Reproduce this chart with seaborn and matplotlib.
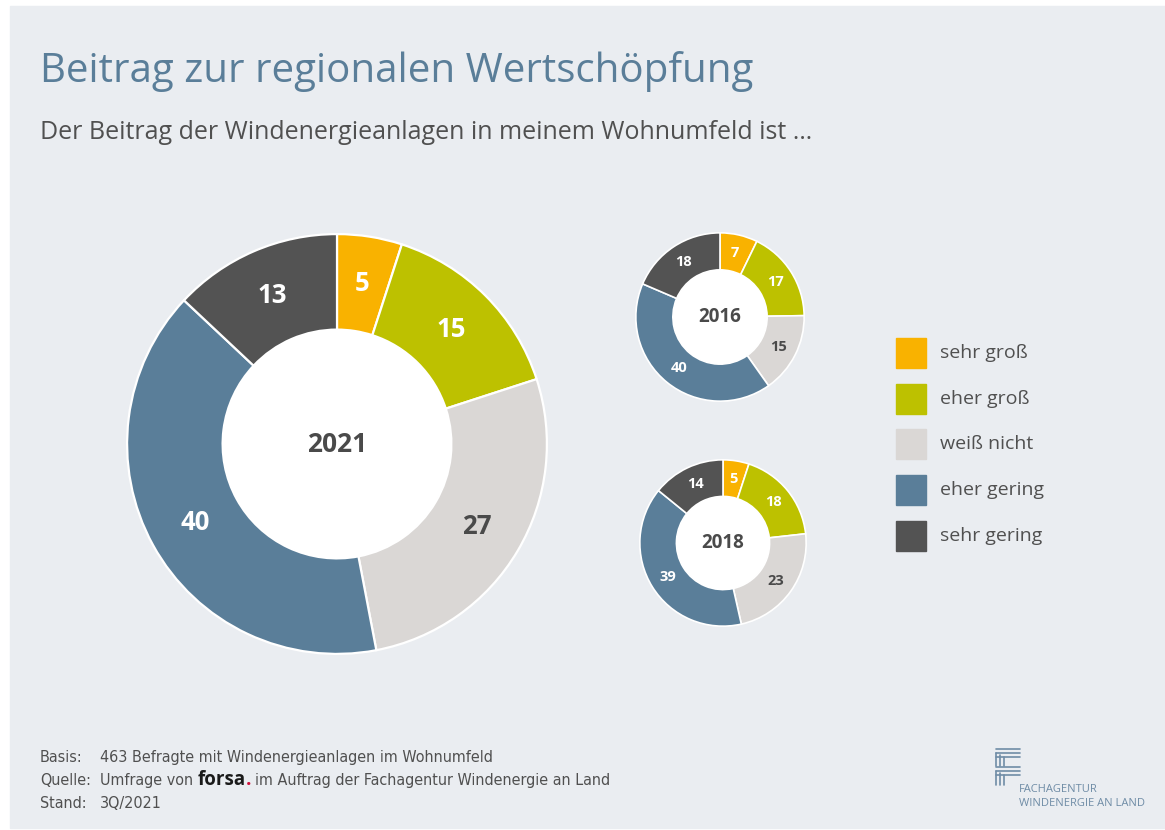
import matplotlib
matplotlib.use("Agg")
import numpy as np
import matplotlib.pyplot as plt
import seaborn as sns
from matplotlib.patches import Rectangle
from matplotlib.lines import Line2D

# Data
categories = ["sehr groß", "eher groß", "weiß nicht", "eher gering", "sehr gering"]
values_2021 = [5, 15, 27, 40, 13]
values_2016 = [7, 17, 15, 40, 18]
values_2018 = [5, 18, 23, 39, 14]
colors = ["#F9B200", "#BDC100", "#DAD7D5", "#5A7E99", "#535353"]
label_colors = ["white", "white", "#4a4a4a", "white", "white"]

W, H = 1165, 830
BG = "#EAEDF1"

sns.set_theme(style="white")
plt.rcParams["font.family"] = ["Open Sans", "DejaVu Sans"]

fig = plt.figure(figsize=(W / 100, H / 100), dpi=100, facecolor="white")


def fx(x):
    return x / W


def fy(y):
    return 1 - y / H


# grey panel
fig.patches.append(Rectangle((fx(10), fy(828)), fx(1165 - 10), (828 - 6) / H,
                             transform=fig.transFigure, color=BG, zorder=-5))


def donut(cx, cy, r, vals, year, ring, num_size, year_size, lw):
    ax = fig.add_axes([fx(cx - r), fy(cy + r), 2 * r / W, 2 * r / H])
    ax.set_facecolor("none")
    ax.pie(vals, colors=colors, startangle=90, counterclock=False,
           radius=1, wedgeprops=dict(width=ring, edgecolor="white", linewidth=lw))
    lr = 1 - ring / 2
    total = sum(vals)
    start = 90.0
    for v, c in zip(vals, label_colors):
        ang = np.deg2rad(start - 360 * v / total / 2)
        ax.text(lr * np.cos(ang), lr * np.sin(ang), str(v), ha="center",
                va="center", color=c, fontsize=num_size, fontweight="bold")
        start -= 360 * v / total
    ax.add_patch(plt.Circle((0, 0), 1 - ring, color="white", zorder=0))
    ax.text(0, 0, year, ha="center", va="center", color="#4a4a4a",
            fontsize=year_size, fontweight="bold")
    ax.set_xlim(-1.01, 1.01)
    ax.set_ylim(-1.01, 1.01)
    ax.set_aspect("equal")
    ax.axis("off")


donut(337, 444, 212, values_2021, "2021", 0.455, 18.5, 19, 1.6)
donut(720, 317, 85, values_2016, "2016", 0.44, 10.5, 13.5, 1.2)
donut(723, 543, 84, values_2018, "2018", 0.44, 10.5, 13.5, 1.2)

# titles
fig.text(fx(40), fy(82), "Beitrag zur regionalen Wertschöpfung", fontsize=29,
         color="#5A7E99", va="baseline", ha="left")
fig.text(fx(40), fy(139), "Der Beitrag der Windenergieanlagen in meinem Wohnumfeld ist …",
         fontsize=18, color="#505050", va="baseline", ha="left")

# legend
for i, (cat, col) in enumerate(zip(categories, colors)):
    yc = 353 + i * 45.7
    fig.patches.append(Rectangle((fx(896), fy(yc + 15)), 30 / W, 30 / H,
                                 transform=fig.transFigure, color=col))
    fig.text(fx(940), fy(yc), cat, fontsize=14, color="#505050",
             va="center", ha="left")

# footer
fk = dict(fontsize=11.5, color="#505050", family="DejaVu Sans",
          fontstretch="condensed", va="baseline")
foot = [("Basis:", "463 Befragte mit Windenergieanlagen im Wohnumfeld"),
        ("Quelle:", None),
        ("Stand:", "3Q/2021")]
for i, (k, v) in enumerate(foot):
    y = fy(762 + i * 23)
    fig.text(fx(40), y, k, **fk)
    if v:
        fig.text(fx(100), y, v, **fk)

y = fy(785)
t1 = fig.text(fx(100), y, "Umfrage von ", **fk)
fig.canvas.draw()
r = fig.canvas.get_renderer()
bb = t1.get_window_extent(r)
t2 = fig.text(bb.x1 / W, y, "forsa", fontsize=13.5, color="#1a1a1a",
              fontweight="bold", va="baseline")
bb2 = t2.get_window_extent(r)
t3 = fig.text(bb2.x1 / W, y, ".", fontsize=13.5, color="#D0103A",
              fontweight="bold", va="baseline")
bb3 = t3.get_window_extent(r)
fig.text(bb3.x1 / W + 4 / W, y, "im Auftrag der Fachagentur Windenergie an Land", **fk)

# logo
logo_c = "#6F8CA6"
for dy in [0, 4, 8]:
    fig.lines.append(Line2D([fx(996), fx(1020)], [fy(749 + dy), fy(749 + dy)],
                            transform=fig.transFigure, color=logo_c, lw=1.2))
    fig.lines.append(Line2D([fx(996), fx(1020)], [fy(767 + dy), fy(767 + dy)],
                            transform=fig.transFigure, color=logo_c, lw=1.2))
for dx in [0, 4, 8]:
    fig.lines.append(Line2D([fx(996 + dx), fx(996 + dx)], [fy(753 + dx / 2), fy(766)],
                            transform=fig.transFigure, color=logo_c, lw=1.2))
    fig.lines.append(Line2D([fx(996 + dx), fx(996 + dx)], [fy(771 + dx / 2), fy(785)],
                            transform=fig.transFigure, color=logo_c, lw=1.2))
fig.text(fx(1019), fy(792), "FACHAGENTUR", fontsize=8, color=logo_c, va="baseline")
fig.text(fx(1019), fy(806), "WINDENERGIE AN LAND", fontsize=8, color=logo_c, va="baseline")

fig.savefig("out.png", dpi=100, facecolor="white")
